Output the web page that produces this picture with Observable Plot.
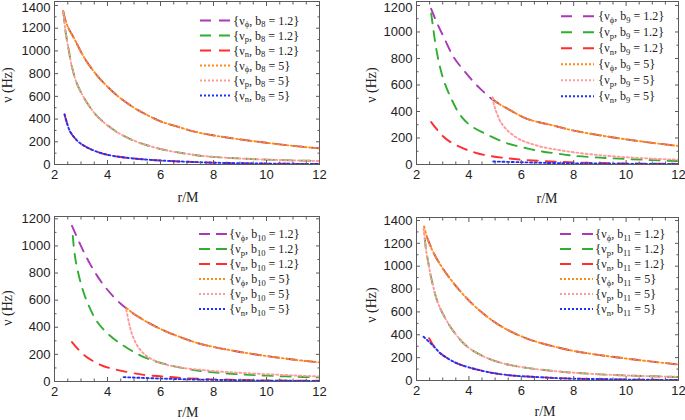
<!DOCTYPE html>
<html><head><meta charset="utf-8">
<script src="https://cdn.jsdelivr.net/npm/d3@7"></script>
<script src="https://cdn.jsdelivr.net/npm/@observablehq/plot@0.6"></script>
<style>
body{margin:0;background:#fff;}
#wrap{position:relative;width:685px;height:420px;overflow:hidden;font-family:"Liberation Sans",Arial,sans-serif;}
.panel{position:absolute;}
.ttl{position:absolute;font-family:"Liberation Serif","Times New Roman",serif;font-size:14px;color:#222;white-space:nowrap;transform:translate(-50%,-50%);}
.ttl.rot{transform:translate(-50%,-50%) rotate(-90deg);}
#leg{position:absolute;left:0;top:0;pointer-events:none;}
</style></head><body><div id="wrap"></div>
<script>
// ---------- data: [r/M, nu (Hz)] ----------
// panel b8
const b8_phi_12 = [[2.33,1350],[2.41,1270],[2.55,1190],[2.73,1115],[3.1,950],[3.6,785],[4.36,608],[5.0,500],[5.36,452],[6.0,380],[6.61,335],[7.36,285],[8,256],[9,221],[10,191],[11,164],[12,142]];
const b8_p_12   = [[2.33,1340],[2.36,1290],[2.41,1180],[2.54,1005],[2.66,857],[2.85,710],[3.1,593],[3.48,461],[3.85,373],[4.36,285],[4.98,211],[5.61,161],[6.24,124],[7.36,82],[8,67],[9,53],[10,43],[11,36],[12,31]];
const b8_n_12   = [[2.38,440],[2.48,358],[2.6,285],[2.85,211],[3.1,167],[3.48,123],[3.85,94],[4.36,70],[4.98,53],[5.61,41],[6.24,32],[7.36,21],[8,16],[9,11],[10,8],[11,6],[12,5]];
const b8_phi_5  = [[2.33,1350],[2.41,1270],[2.55,1190],[2.73,1115],[3.1,950],[3.6,785],[4.36,608],[5.0,500],[5.36,452],[6.0,380],[6.61,335],[7.36,285],[8,256],[9,221],[10,191],[11,164],[12,142]];
const b8_p_5    = [[2.33,1340],[2.36,1290],[2.41,1180],[2.54,1005],[2.66,857],[2.85,710],[3.1,593],[3.48,461],[3.85,373],[4.36,285],[4.98,211],[5.61,161],[6.24,124],[7.36,82],[8,67],[9,53],[10,43],[11,36],[12,31]];
const b8_n_5    = [[2.38,440],[2.48,358],[2.6,285],[2.85,211],[3.1,167],[3.48,123],[3.85,94],[4.36,70],[4.98,53],[5.61,41],[6.24,32],[7.36,21],[8,16],[9,11],[10,8],[11,6],[12,5]];
// panel b9
const b9_phi_12 = [[2.56,1175],[2.8,1060],[3.04,961],[3.42,810],[3.81,709],[4.19,621],[4.44,571],[4.76,513],[5.0,478],[5.59,408],[6.22,345],[7.37,287],[8,256],[9,220],[10,190],[11,163],[12,140]];
const b9_p_12   = [[2.56,1140],[2.65,1010],[2.73,900],[2.85,775],[3.04,634],[3.36,483],[3.68,370],[4.06,294],[4.7,225],[5.46,160],[6.22,122],[6.74,100],[7.37,82],[8,66],[9,52],[10,42],[11,33],[12,26]];
const b9_n_12   = [[2.56,320],[2.98,219],[3.3,169],[3.68,131],[4.06,101],[4.57,73],[5.33,50],[6.1,35],[7.11,23],[8,16],[9,11],[10,8],[11,6],[12,5]];
const b9_phi_5  = [[4.9,505],[5.0,478],[5.59,408],[6.22,345],[7.37,287],[8,256],[9,220],[10,190],[11,163],[12,140]];
const b9_p_5    = [[4.9,505],[4.96,450],[5.02,410],[5.09,375],[5.2,325],[5.47,257],[5.84,200],[6.1,175],[6.35,158],[6.74,135],[7.11,120],[7.5,107],[8,92],[9,70],[10,55],[11,44],[12,36]];
const b9_n_5    = [[4.93,23],[6,17],[7,12],[8,9],[9,7],[10,5],[11,4],[12,3]];
// panel b10
const b10_phi_12 = [[2.66,1148],[2.97,1012],[3.35,864],[3.79,728],[4.23,625],[4.49,575],[4.71,540],[5.0,498],[5.62,425],[6.26,365],[7.39,284],[8,255],[9,218],[10,188],[11,162],[12,141]];
const b10_p_12   = [[2.69,1074],[2.78,914],[2.97,741],[3.22,593],[3.6,444],[4.05,346],[4.74,247],[5.5,170],[6.26,124],[7.14,88],[8,67],[9,53],[10,43],[11,36],[12,30]];
const b10_n_12   = [[2.66,291],[3.1,198],[3.73,123],[4.36,86],[5.37,49],[6.13,37],[6.89,25],[8,16],[9,11],[10,8],[11,6],[12,5]];
const b10_phi_5  = [[4.71,543],[5.0,498],[5.62,425],[6.26,365],[7.39,284],[8,255],[9,218],[10,188],[11,162],[12,141]];
const b10_p_5    = [[4.71,530],[4.8,444],[4.93,346],[5.18,247],[5.5,185],[6,136],[6.89,99],[7.52,86],[8,77],[9,64],[10,54],[11,45],[12,37]];
const b10_n_5    = [[4.61,32],[5,29],[6,22],[7,16],[8,12],[9,9],[10,6],[11,5],[12,4]];
// panel b11
const b11_phi_12 = [[2.4,1255],[2.67,1109],[3.05,964],[3.43,848],[3.81,746],[4.32,630],[4.96,514],[5.61,427],[6.37,354],[7.38,290],[8,258],[9,222],[10,192],[11,165],[12,140]];
const b11_p_12   = [[2.32,1240],[2.35,1168],[2.48,993],[2.61,848],[2.8,690],[3.05,565],[3.43,425],[3.94,296],[4.57,209],[5.33,148],[6.22,110],[7.38,80],[8,68],[9,54],[10,44],[11,37],[12,31]];
const b11_n_12   = [[2.48,369],[2.67,298],[2.92,236],[3.37,170],[3.69,137],[4.32,95],[4.96,64],[5.59,45],[6.37,33],[7.37,21],[8,16],[9,12],[10,8],[11,6],[12,5]];
const b11_phi_5  = [[2.29,1348],[2.42,1240],[2.67,1109],[3.05,964],[3.43,848],[3.81,746],[4.32,630],[4.96,514],[5.61,427],[6.37,354],[7.38,290],[8,258],[9,222],[10,192],[11,165],[12,140]];
const b11_p_5    = [[2.27,1330],[2.35,1168],[2.48,993],[2.61,848],[2.8,690],[3.05,565],[3.43,425],[3.94,296],[4.57,209],[5.33,148],[6.22,110],[7.38,80],[8,68],[9,54],[10,44],[11,37],[12,31]];
const b11_n_5    = [[2.27,383],[2.54,325],[2.67,296],[2.92,236],[3.37,170],[3.69,137],[4.32,95],[4.96,64],[5.59,45],[6.37,33],[7.37,21],[8,16],[9,12],[10,8],[11,6],[12,5]];

// ticks and labels
const xMajor = [2,4,6,8,10,12];
const xMinor = [2.5,3,3.5,4.5,5,5.5,6.5,7,7.5,8.5,9,9.5,10.5,11,11.5];
const yMajor1400 = [0,200,400,600,800,1000,1200,1400];
const yMinor1400 = [100,300,500,700,900,1100,1300];
const yMajor1200 = [0,200,400,600,800,1000,1200];
const yMinor1200 = [100,300,500,700,900,1100];
const freqSubs = ["ϕ","p","n","ϕ","p","n"];
const bValues = ["1.2","1.2","1.2","5","5","5"];
const seriesColors = ["#a939b8","#2fae2f","#ff2d2d","#ff8a14","#ff9a9a","#1f2fff"];
const xTitle = "r/M";
const yTitle = "ν (Hz)";

// ---------- layout ----------
const FRAME = "#5a5a5a";
const DASH = "10,8", DOT = "2,2.6";
const styles = [DASH,DASH,DASH,DOT,DOT,DOT];

const panels = [
  {sub:"8", left:0, top:0, w:340, h:210, mL:54, mR:21, mT:1, mB:46, ymax:1435, yMaj:yMajor1400, yMin:yMinor1400,
   series:[b8_phi_12,b8_p_12,b8_n_12,b8_phi_5,b8_p_5,b8_n_5],
   leg:{x1:200,x2:230,tx:233,row0:20.5,step:15}, xt:[188,198], yt:[8,85]},
  {sub:"9", left:340, top:0, w:345, h:210, mL:76, mR:7, mT:1, mB:46, ymax:1230, yMaj:yMajor1200, yMin:yMinor1200,
   series:[b9_phi_12,b9_p_12,b9_n_12,b9_phi_5,b9_p_5,b9_n_5],
   leg:{x1:561,x2:594,tx:598,row0:16.3,step:16}, xt:[547,199], yt:[372,85]},
  {sub:"10", left:0, top:210, w:340, h:210, mL:54, mR:21, mT:6, mB:39, ymax:1217, yMaj:yMajor1200, yMin:yMinor1200,
   series:[b10_phi_12,b10_p_12,b10_n_12,b10_phi_5,b10_p_5,b10_n_5],
   leg:{x1:199,x2:227,tx:229,row0:234,step:15}, xt:[188,413], yt:[8,308]},
  {sub:"11", left:340, top:210, w:345, h:210, mL:76, mR:7, mT:7, mB:40, ymax:1426, yMaj:yMajor1400, yMin:yMinor1400,
   series:[b11_phi_12,b11_p_12,b11_n_12,b11_phi_5,b11_p_5,b11_n_5],
   leg:{x1:560,x2:593,tx:595,row0:234,step:15}, xt:[545,412], yt:[372,305]}
];

const wrap = document.getElementById("wrap");

function tickAxes(p){
  const t = {stroke:FRAME, strokeWidth:1, fill:"none", label:null};
  const lab = {tickSize:0, label:null, fill:"#222", fontSize:13, tickFormat:d3.format("d")};
  const top = p.yMaj[p.yMaj.length-1];
  return [
    Plot.axisX({...t, anchor:"bottom", ticks:xMajor, tickSize:4, dy:-4}),
    Plot.axisX({...t, anchor:"bottom", ticks:xMinor, tickSize:2.5, dy:-2.5}),
    Plot.axisX({...t, anchor:"top", ticks:xMajor, tickSize:4, dy:4}),
    Plot.axisX({...t, anchor:"top", ticks:xMinor, tickSize:2.5, dy:2.5}),
    Plot.axisY({...t, anchor:"left", ticks:p.yMaj, tickSize:4, dx:4}),
    Plot.axisY({...t, anchor:"left", ticks:p.yMin, tickSize:2.5, dx:2.5}),
    Plot.axisY({...t, anchor:"right", ticks:p.yMaj, tickSize:4, dx:-4}),
    Plot.axisY({...t, anchor:"right", ticks:p.yMin, tickSize:2.5, dx:-2.5}),
    Plot.axisX({...lab, anchor:"bottom", ticks:xMajor, tickPadding:5}),
    Plot.axisY({...lab, anchor:"left", ticks:p.yMaj.filter(v => v !== top), tickPadding:4}),
    Plot.axisY({...lab, anchor:"left", ticks:[top], tickPadding:4, dy: p.mT < 3 ? 2 : 0})
  ];
}

panels.forEach(p => {
  const lines = p.series.map((s,i) => Plot.line(s, {
    x: d => d[0], y: d => d[1], stroke: seriesColors[i], strokeWidth: 1.9,
    strokeDasharray: styles[i], curve: "catmull-rom", clip: true
  }));
  const chart = Plot.plot({
    width: p.w, height: p.h,
    marginLeft: p.mL, marginRight: p.mR, marginTop: p.mT, marginBottom: p.mB,
    x: {domain:[2,12]}, y: {domain:[0,p.ymax]},
    style: {fontFamily:"'Liberation Sans', Arial, sans-serif", fontSize:"13px", background:"transparent", overflow:"visible"},
    marks: [...lines, Plot.frame({stroke:FRAME, strokeWidth:1}), ...tickAxes(p)]
  });
  const div = document.createElement("div");
  div.className = "panel";
  div.style.left = p.left + "px"; div.style.top = p.top + "px";
  div.appendChild(chart);
  wrap.appendChild(div);

  const xt = document.createElement("div");
  xt.className = "ttl"; xt.textContent = xTitle;
  xt.style.left = p.xt[0] + "px"; xt.style.top = p.xt[1] + "px";
  wrap.appendChild(xt);
  const yt = document.createElement("div");
  yt.className = "ttl rot"; yt.textContent = yTitle;
  yt.style.left = p.yt[0] + "px"; yt.style.top = p.yt[1] + "px";
  wrap.appendChild(yt);
});

// legends
const leg = d3.select(wrap).append("svg").attr("id","leg").attr("width",685).attr("height",420);
panels.forEach(p => {
  freqSubs.forEach((f,i) => {
    const y = p.leg.row0 + i * p.leg.step;
    leg.append("line").attr("x1",p.leg.x1).attr("x2",p.leg.x2).attr("y1",y).attr("y2",y)
      .attr("stroke",seriesColors[i]).attr("stroke-width",1.9)
      .attr("stroke-dasharray", i<3 ? "11,"+((p.leg.x2-p.leg.x1)-22) : "2,2");
    const t = leg.append("text").attr("x",p.leg.tx).attr("y",y+4)
      .attr("font-family","'Liberation Serif','Times New Roman',serif").attr("font-size",12).attr("fill","#222");
    t.append("tspan").attr("font-size",13).text("{");
    t.append("tspan").text("ν");
    t.append("tspan").attr("font-size",8.5).attr("dy",2.5).text(f);
    t.append("tspan").attr("dy",-2.5).text(", b");
    t.append("tspan").attr("font-size",8.5).attr("dy",2.5).text(p.sub);
    t.append("tspan").attr("dy",-2.5).text(" = " + bValues[i]);
    t.append("tspan").attr("font-size",13).text("}");
  });
});
</script>
</body></html>
